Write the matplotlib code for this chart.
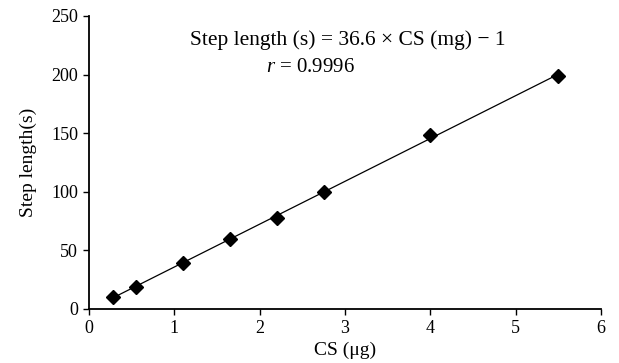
import matplotlib
matplotlib.use("Agg")
import matplotlib.pyplot as plt
import numpy as np

# datos
cs = [0.275, 0.55, 1.1, 1.65, 2.2, 2.75, 4.0, 5.5]
paso = [10, 19, 39, 60, 78, 100, 148, 199]
xticks = [0, 1, 2, 3, 4, 5, 6]
yticks = [0, 50, 100, 150, 200, 250]

plt.rcParams['font.family'] = ['Liberation Serif', 'DejaVu Serif']
plt.rcParams['mathtext.fontset'] = 'custom'
plt.rcParams['mathtext.it'] = 'Liberation Serif:italic'
plt.rcParams['mathtext.rm'] = 'Liberation Serif'

fig = plt.figure(figsize=(6.19, 3.63), dpi=100)
ax = fig.add_axes([0.144, 0.149, 0.827, 0.807])

# linea de tendencia
m, b = np.polyfit(cs, paso, 1)
xl = np.array([cs[0], cs[-1]])
ax.plot(xl, m * xl + b, color='black', linewidth=0.9)
ax.plot(cs, paso, linestyle='none', marker='D', markersize=7,
        color='black')

ax.set_xlim(0, 6)
ax.set_ylim(0, 250)
ax.set_xticks(xticks)
ax.set_yticks(yticks)
ax.spines['top'].set_visible(False)
ax.spines['right'].set_visible(False)
ax.spines['left'].set_linewidth(1.3)
ax.spines['bottom'].set_linewidth(1.3)
ax.tick_params(direction='out', length=4, width=1, labelsize=13, pad=4)

ax.set_xlabel('CS (μg)', fontsize=14, labelpad=3)
ax.set_ylabel('Step length(s)', fontsize=14, labelpad=10)

ax.text(3.03, 229, 'Step length (s) = 36.6 × CS (mg) − 1', ha='center',
        va='center', fontsize=15.5)
ax.text(2.6, 206, '$r$ = 0.9996', ha='center', va='center', fontsize=15)

fig.savefig('out.png', dpi=100)
